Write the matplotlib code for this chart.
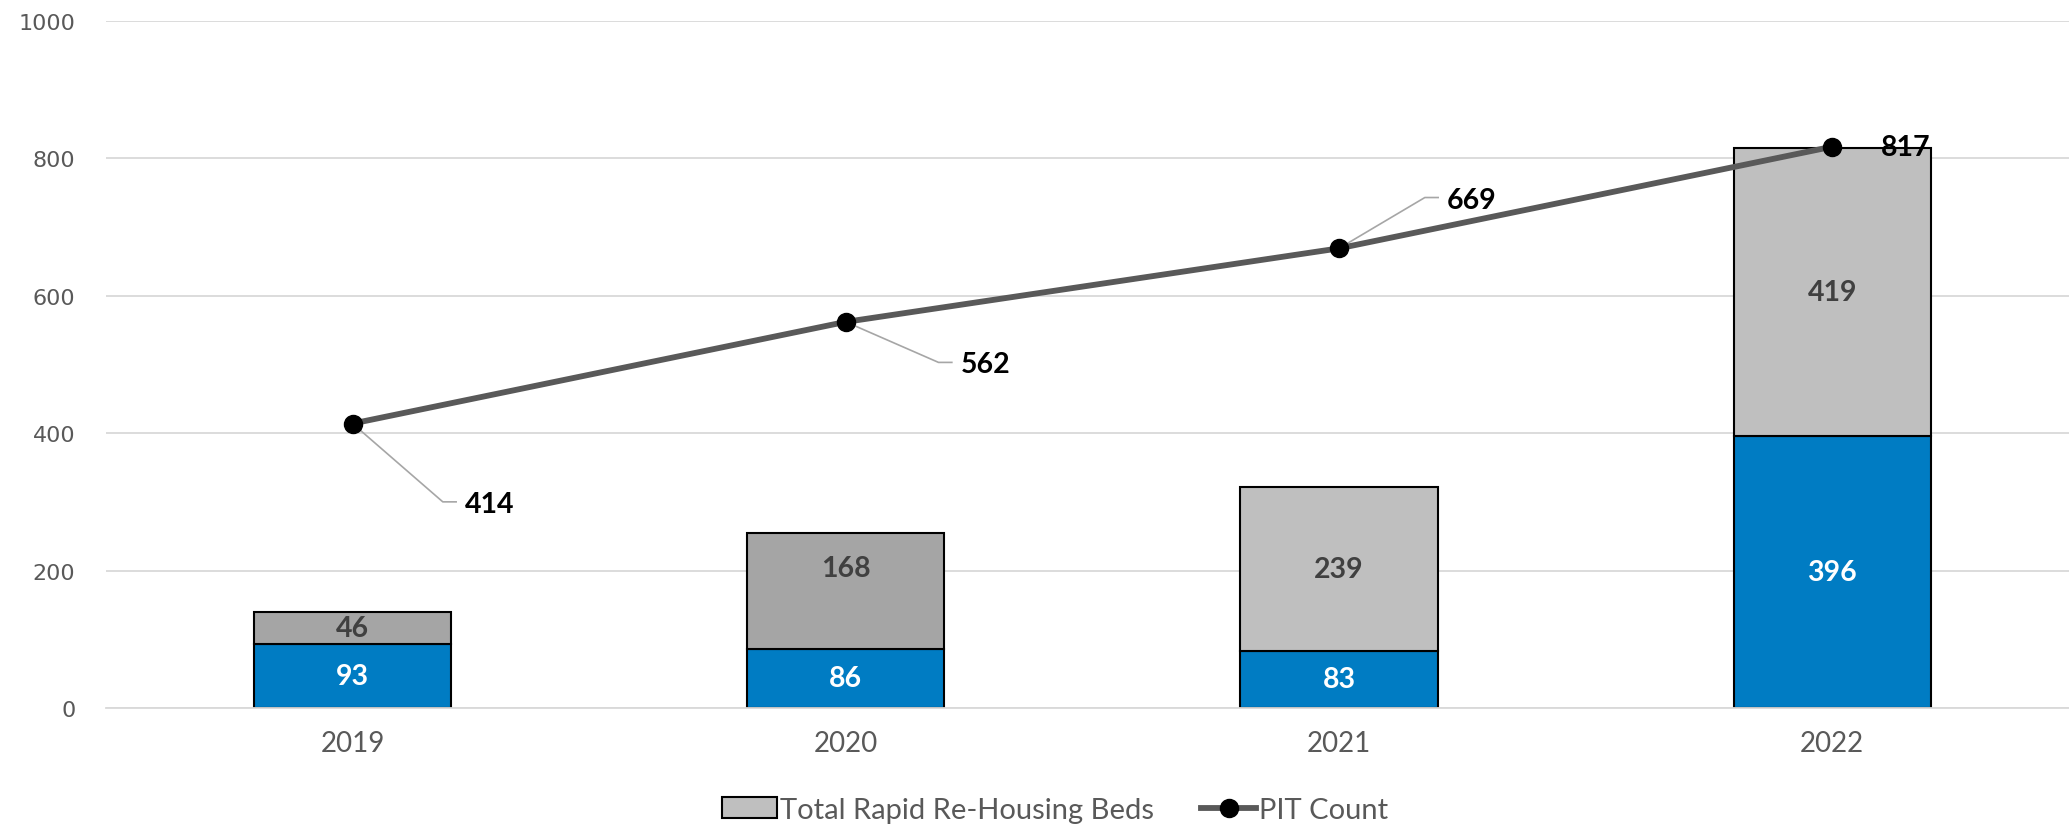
import matplotlib.pyplot as plt
from matplotlib.patches import Patch
from matplotlib.lines import Line2D

# data
years = ["2019", "2020", "2021", "2022"]
beds_blue = [93, 86, 83, 396]
beds_gray = [46, 168, 239, 419]
pit_count = [414, 562, 669, 817]

gray_colors = ["#a5a5a5", "#a5a5a5", "#bfbfbf", "#bfbfbf"]
blue = "#007cc3"

# label placement for the PIT count (offset from the point, in data units)
pit_label_dx = [0.228, 0.233, 0.219, 0.099]
pit_label_dy = [-117, -62, 71, 0]
gray_label_dy = [0, 34, 0, 0]

plt.rcParams["font.family"] = ["Lato", "DejaVu Sans"]

fig = plt.figure(figsize=(20.69, 8.29), dpi=100)
ax = fig.add_axes([0.0512, 0.1448, 0.9488, 0.8287])

x = range(len(years))
ax.bar(x, beds_blue, width=0.4, color=blue, edgecolor="black", linewidth=1.5, zorder=2)
ax.bar(x, beds_gray, width=0.4, bottom=beds_blue, color=gray_colors,
       edgecolor="black", linewidth=1.5, zorder=2)

for i in x:
    ax.text(i, beds_blue[i] / 2, str(beds_blue[i]), ha="center", va="center",
            color="white", fontsize=20.5, fontweight="bold", zorder=5)
    ax.text(i, beds_blue[i] + beds_gray[i] / 2 + gray_label_dy[i], str(beds_gray[i]),
            ha="center", va="center", color="#404040", fontsize=20.5,
            fontweight="bold", zorder=5)

ax.plot(x, pit_count, color="#595959", linewidth=4.2, marker="o", markersize=13,
        markerfacecolor="black", markeredgecolor="black", zorder=4)

for i in x:
    lx = i + pit_label_dx[i]
    ly = pit_count[i] + pit_label_dy[i]
    if pit_label_dy[i] != 0:
        ax.plot([i, lx - 0.045, lx - 0.018], [pit_count[i], ly + 3, ly + 3],
                color="#a6a6a6", linewidth=1.2, zorder=3)
    ax.text(lx, ly, str(pit_count[i]), ha="left", va="center", color="black",
            fontsize=20.5, fontweight="bold", zorder=5)

ax.set_xlim(-0.5, 3.48)
ax.set_ylim(0, 1000)
ax.set_yticks(range(0, 1001, 200))
ax.set_xticks(list(x))
ax.set_xticklabels(years)
ax.yaxis.grid(True, color="#d9d9d9", linewidth=1.3, zorder=0)
ax.set_axisbelow(True)
for s in ["top", "right", "left"]:
    ax.spines[s].set_visible(False)
ax.spines["bottom"].set_color("#d9d9d9")
ax.spines["bottom"].set_linewidth(1.3)
ax.tick_params(axis="both", length=0, colors="#595959")
ax.tick_params(axis="x", labelsize=20, pad=16)
ax.tick_params(axis="y", labelsize=16, pad=22)
for lab in ax.get_yticklabels():
    lab.set_fontfamily("DejaVu Sans")

handles = [
    Patch(facecolor="#bfbfbf", edgecolor="black", linewidth=1.5),
    Line2D([0], [0], color="#595959", linewidth=4.2, marker="o", markersize=13,
           markerfacecolor="black", markeredgecolor="black"),
]
fig.legend(handles, ["Total Rapid Re-Housing Beds", "PIT Count"], loc="center",
           bbox_to_anchor=(0.51, 0.022), ncol=2, frameon=False, fontsize=21,
           labelcolor="#595959", handlelength=1.9, handletextpad=0.1,
           columnspacing=1.6)

fig.savefig("out.png", dpi=100)
